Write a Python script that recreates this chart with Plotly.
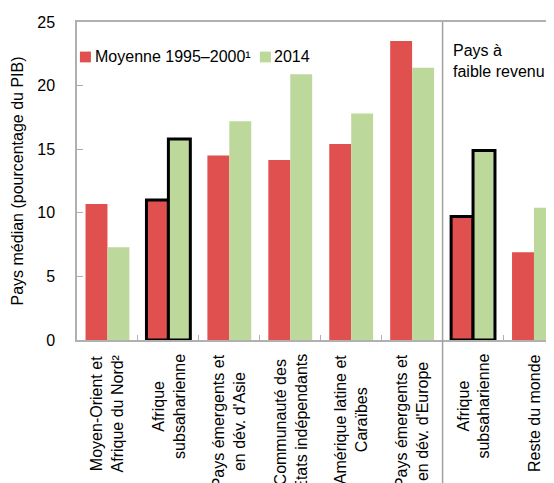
import plotly.graph_objects as go

# data
categories = [
    "Moyen-Orient et<br>Afrique du Nord²",
    "Afrique<br>subsaharienne",
    "Pays émergents et<br>en dév. d'Asie",
    "Communauté des<br>États indépendants",
    "Amérique latine et<br>Caraïbes",
    "Pays émergents et<br>en dév. d'Europe",
    "Afrique<br>subsaharienne",
    "Reste du monde",
]
avg_1995_2000 = [10.7, 11.0, 14.5, 14.15, 15.4, 23.5, 9.7, 6.9]
y2014 = [7.3, 15.8, 17.2, 20.9, 17.8, 21.4, 14.9, 10.4]
highlight = [False, True, False, False, False, False, True, False]

RED = "#E0504F"
GREEN = "#BDD89B"
AXIS = "#B0B0B0"
FONT = "Liberation Sans, Arial, sans-serif"

xs = list(range(len(categories)))
line_w = [3 if h else 0 for h in highlight]

fig = go.Figure()
fig.add_trace(go.Bar(x=xs, y=avg_1995_2000, name="Moyenne 1995–2000¹",
                     marker=dict(color=RED, line=dict(color="black", width=line_w))))
fig.add_trace(go.Bar(x=xs, y=y2014, name="2014",
                     marker=dict(color=GREEN, line=dict(color="black", width=line_w))))

# category labels, rotated, lines centred
for i, lab in enumerate(categories):
    fig.add_annotation(x=i, y=0, xref="x", yref="paper", yanchor="top", xanchor="center",
                       yshift=-12, text=lab, textangle=-90, align="center",
                       showarrow=False, font=dict(size=16, color="black"))

# group separator
fig.add_shape(type="line", xref="x", yref="paper", x0=5.5, x1=5.5, y0=1, y1=-0.5,
              line=dict(color="#A0A0A0", width=1.5))

fig.add_annotation(x=5.64, y=1, xref="x", yref="paper", xanchor="left", yanchor="top",
                   yshift=-18, text="Pays à<br>faible revenu", align="left",
                   showarrow=False, font=dict(size=16, color="black"))

# legend drawn by hand (tighter than plotly's own)
leg = [(RED, "Moyenne 1995–2000¹", 0.006), (GREEN, "2014", 0.377)]
for col, txt, x0 in leg:
    fig.add_shape(type="rect", xref="paper", yref="paper",
                  x0=x0, x1=x0 + 0.0227, y0=0.873, y1=0.907,
                  fillcolor=col, line=dict(width=0))
    fig.add_annotation(x=x0 + 0.026, y=0.89, xref="paper", yref="paper",
                       xanchor="left", yanchor="middle", text=txt, showarrow=False,
                       font=dict(size=16, color="black"))

# the page body adds an 8px offset, so margins are trimmed by 8
fig.update_layout(
    width=554, height=483,
    margin=dict(l=69, r=0, t=14, b=151),
    barmode="group", bargap=0.28, bargroupgap=0,
    plot_bgcolor="white", paper_bgcolor="white",
    showlegend=False,
    font=dict(family=FONT, size=16, color="black"),
    xaxis=dict(range=[-0.5, 7.46], showline=True, linecolor=AXIS, linewidth=1.5,
               mirror=True, showgrid=False, zeroline=False,
               tickvals=[i + 0.5 for i in range(7)], ticks="inside", ticklen=5,
               tickcolor=AXIS, showticklabels=False),
    yaxis=dict(range=[0, 25], dtick=5, showline=True, linecolor=AXIS, linewidth=1.5,
               showgrid=False, zeroline=False, ticks="inside", ticklen=6,
               tickcolor=AXIS, ticklabelstandoff=17,
               title=dict(text="Pays médian (pourcentage du PIB)", standoff=10,
                          font=dict(size=16))),
)

fig.write_html("out.html")
